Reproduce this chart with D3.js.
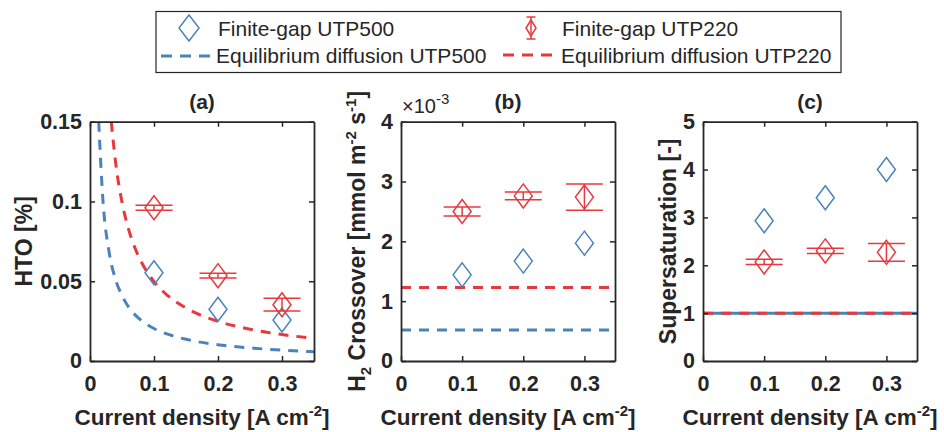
<!DOCTYPE html>
<html>
<head>
<meta charset="utf-8">
<script src="https://cdn.jsdelivr.net/npm/d3@7"></script>
<style>
  body { margin: 0; background: #fff; }
  text { font-family: "Liberation Sans", Arial, sans-serif; fill: #262626; }
</style>
</head>
<body>
<svg id="fig" width="944" height="432"></svg>
<script>
// ---------------- data ----------------
const currentDensity = [0.1, 0.2, 0.3];
const xTicks = [0, 0.1, 0.2, 0.3];

// (a) HTO [%]
const htoUTP500 = [0.0553, 0.0324, 0.0257];
const htoUTP220 = [0.0961, 0.0535, 0.0353];
const htoUTP220Err = [0.0016, 0.0015, 0.0040];
const htoEqX500 = [0.0136, 0.02, 0.03, 0.04, 0.05, 0.06, 0.08, 0.1, 0.12, 0.15, 0.2, 0.25, 0.3, 0.35];
const htoEqY500 = [0.15, 0.102, 0.068, 0.051, 0.041, 0.034, 0.0255, 0.0204, 0.017, 0.0136, 0.0102, 0.0082, 0.0068, 0.0058];
const htoEqX220 = [0.0332, 0.04, 0.05, 0.06, 0.07, 0.08, 0.1, 0.12, 0.15, 0.2, 0.25, 0.3, 0.35];
const htoEqY220 = [0.15, 0.1245, 0.0996, 0.083, 0.0711, 0.0623, 0.0498, 0.0415, 0.0332, 0.0249, 0.0199, 0.0166, 0.0142];
const htoTicks = [0, 0.05, 0.1, 0.15];

// (b) H2 crossover [x10^-3 mmol m-2 s-1]
const crossUTP500 = [1.44, 1.67, 1.97];
const crossUTP220 = [2.50, 2.76, 2.74];
const crossUTP220Err = [0.075, 0.065, 0.22];
const crossEq500 = 0.52;
const crossEq220 = 1.23;
const crossTicks = [0, 1, 2, 3, 4];

// (c) supersaturation [-]
const superUTP500 = [2.93, 3.41, 4.0];
const superUTP220 = [2.07, 2.30, 2.27];
const superUTP220Err = [0.055, 0.055, 0.185];
const superEq500 = 1;
const superEq220 = 1;
const superTicks = [0, 1, 2, 3, 4, 5];

const BLUE = "#4a83b9";
const RED = "#e8383d";
const AXC = "#262626";

let svg = d3.select("#fig");

let top_ = 121.7, bottom = 361;

// diamond marker
let diamond = "M0,-12L9,0L0,12L-9,0Z";

function panel(opt) {
  let g = svg.append("g");
  let x = d3.scaleLinear().domain([0, 0.35]).range([opt.left, opt.right]);
  let y = d3.scaleLinear().domain(opt.yDomain).range([bottom, top_]);

  let clipId = "clip" + opt.name;
  svg.append("clipPath").attr("id", clipId)
    .append("rect").attr("x", opt.left).attr("y", top_)
    .attr("width", opt.right - opt.left).attr("height", bottom - top_);

  let plot = g.append("g").attr("clip-path", "url(#" + clipId + ")");

  // equilibrium lines / curves
  opt.eq.forEach(function(e) {
    let line = d3.line().x(d => x(d[0])).y(d => y(d[1])).curve(d3.curveMonotoneX);
    plot.append("path")
      .datum(e.pts)
      .attr("d", line)
      .attr("fill", "none")
      .attr("stroke", e.color)
      .attr("stroke-width", 3)
      .attr("stroke-dasharray", e.dash);
  });

  // finite gap UTP500
  g.selectAll(".d500").data(opt.s500).enter().append("path")
    .attr("transform", (d, i) => "translate(" + x(currentDensity[i]) + "," + y(d) + ")")
    .attr("d", diamond)
    .attr("fill", "none").attr("stroke", BLUE).attr("stroke-width", 1.5);

  // finite gap UTP220 with error bars
  let eb = g.selectAll(".d220").data(opt.s220).enter().append("g")
    .attr("transform", (d, i) => "translate(" + x(currentDensity[i]) + ",0)");
  eb.append("path")
    .attr("transform", d => "translate(0," + y(d) + ")")
    .attr("d", diamond)
    .attr("fill", "none").attr("stroke", RED).attr("stroke-width", 1.5);
  eb.append("line")
    .attr("y1", (d, i) => y(d - opt.err[i])).attr("y2", (d, i) => y(d + opt.err[i]))
    .attr("stroke", RED).attr("stroke-width", 1.5);
  [-1, 1].forEach(function(s) {
    eb.append("line")
      .attr("x1", -18.5).attr("x2", 18.5)
      .attr("y1", (d, i) => y(d + s * opt.err[i])).attr("y2", (d, i) => y(d + s * opt.err[i]))
      .attr("stroke", RED).attr("stroke-width", 1.5);
  });

  // axes, MATLAB-style box with inward ticks
  let xb = g.append("g").attr("transform", "translate(0," + bottom + ")")
    .call(d3.axisBottom(x).tickValues(xTicks).tickFormat(d => d === 0 ? "0" : d3.format(".1f")(d))
      .tickSizeInner(-5).tickSizeOuter(0).tickPadding(15));
  let xt = g.append("g").attr("transform", "translate(0," + top_ + ")")
    .call(d3.axisTop(x).tickValues(xTicks).tickFormat("").tickSizeInner(-5).tickSizeOuter(0));
  let yl = g.append("g").attr("transform", "translate(" + opt.left + ",0)")
    .call(d3.axisLeft(y).tickValues(opt.ticks).tickFormat(opt.fmt)
      .tickSizeInner(-5).tickSizeOuter(0).tickPadding(8));
  let yr = g.append("g").attr("transform", "translate(" + opt.right + ",0)")
    .call(d3.axisRight(y).tickValues(opt.ticks).tickFormat("").tickSizeInner(-5).tickSizeOuter(0));

  [xb, xt, yl, yr].forEach(function(a) {
    a.select(".domain").attr("stroke", AXC).attr("stroke-width", 1.8);
    a.selectAll(".tick line").attr("stroke", AXC).attr("stroke-width", 1.5);
    a.selectAll(".tick text").attr("font-size", 21.5).attr("font-weight", "bold")
      .attr("font-family", "'Liberation Sans', Arial, sans-serif").attr("fill", AXC);
  });

  // title
  g.append("text")
    .attr("x", (opt.left + opt.right) / 2).attr("y", 109)
    .attr("text-anchor", "middle").attr("font-size", 21).attr("font-weight", "bold")
    .text(opt.title);

  // x label
  let xl = g.append("text")
    .attr("x", (opt.left + opt.right) / 2).attr("y", 425)
    .attr("text-anchor", "middle").attr("font-size", 22.5).attr("font-weight", "bold");
  xl.append("tspan").text("Current density [A cm");
  xl.append("tspan").attr("dy", -9).attr("font-size", 15).text("-2");
  xl.append("tspan").attr("dy", 9).text("]");

  // y label
  let ylab = g.append("text")
    .attr("transform", "translate(" + opt.yLabelX + "," + ((top_ + bottom) / 2) + ") rotate(-90)")
    .attr("text-anchor", "middle").attr("font-size", 23).attr("font-weight", "bold");
  opt.yLabel(ylab);

  return g;
}

panel({
  name: "a", title: "(a)", left: 90, right: 314, yDomain: [0, 0.15],
  ticks: htoTicks, fmt: d => d === 0 ? "0" : String(d),
  s500: htoUTP500, s220: htoUTP220, err: htoUTP220Err,
  eq: [
    { pts: d3.zip(htoEqX500, htoEqY500), color: BLUE, dash: "10,8" },
    { pts: d3.zip(htoEqX220, htoEqY220), color: RED, dash: "10,8" }
  ],
  yLabelX: 32,
  yLabel: function(t) { t.text("HTO [%]"); }
});

panel({
  name: "b", title: "(b)", left: 401, right: 615, yDomain: [0, 4],
  ticks: crossTicks, fmt: d => String(d),
  s500: crossUTP500, s220: crossUTP220, err: crossUTP220Err,
  eq: [
    { pts: [[0, crossEq500], [0.35, crossEq500]], color: BLUE, dash: "10,8" },
    { pts: [[0, crossEq220], [0.35, crossEq220]], color: RED, dash: "10,8" }
  ],
  yLabelX: 365,
  yLabel: function(t) {
    t.append("tspan").text("H");
    t.append("tspan").attr("dy", 6).attr("font-size", 15).text("2");
    t.append("tspan").attr("dy", -6).text(" Crossover [mmol m");
    t.append("tspan").attr("dy", -9).attr("font-size", 15).text("-2");
    t.append("tspan").attr("dy", 9).text(" s");
    t.append("tspan").attr("dy", -9).attr("font-size", 15).text("-1");
    t.append("tspan").attr("dy", 9).text("]");
  }
});

// exponent label for (b)
let expo = svg.append("text").attr("x", 402).attr("y", 113).attr("font-size", 20);
expo.append("tspan").text("\u00d710");
expo.append("tspan").attr("dy", -9).attr("font-size", 15).text("-3");

panel({
  name: "c", title: "(c)", left: 703, right: 917, yDomain: [0, 5],
  ticks: superTicks, fmt: d => String(d),
  s500: superUTP500, s220: superUTP220, err: superUTP220Err,
  eq: [
    { pts: [[0, superEq500], [0.35, superEq500]], color: BLUE, dash: null },
    { pts: [[0, superEq220], [0.35, superEq220]], color: RED, dash: "10,8" }
  ],
  yLabelX: 676,
  yLabel: function(t) { t.text("Supersaturation [-]"); }
});

// ---------------- legend ----------------
let leg = svg.append("g");
leg.append("rect").attr("x", 156).attr("y", 11.5).attr("width", 685).attr("height", 61)
  .attr("fill", "#fff").attr("stroke", AXC).attr("stroke-width", 1.2);

let legItems = [
  { label: "Finite-gap UTP500", kind: "diamond", color: BLUE, x: 189, y: 28, tx: 218, ty: 36 },
  { label: "Finite-gap UTP220", kind: "errbar", color: RED, x: 531, y: 28, tx: 562, ty: 36 },
  { label: "Equilibrium diffusion UTP500", kind: "dash", color: BLUE, x: 188, y: 56, tx: 216, ty: 63 },
  { label: "Equilibrium diffusion UTP220", kind: "dash", color: RED, x: 530, y: 55, tx: 561, ty: 63 }
];

let li = leg.selectAll(".li").data(legItems).enter().append("g");
li.each(function(d) {
  let s = d3.select(this);
  if (d.kind === "diamond") {
    s.append("path").attr("transform", "translate(" + d.x + "," + d.y + ")")
      .attr("d", "M0,-13L10,0L0,13L-10,0Z").attr("fill", "none")
      .attr("stroke", d.color).attr("stroke-width", 1.5);
  } else if (d.kind === "errbar") {
    s.append("path").attr("transform", "translate(" + d.x + "," + d.y + ")")
      .attr("d", "M0,-8L5,0L0,8L-5,0Z").attr("fill", "none")
      .attr("stroke", d.color).attr("stroke-width", 1.5);
    s.append("line").attr("x1", d.x).attr("x2", d.x).attr("y1", d.y - 11).attr("y2", d.y + 11)
      .attr("stroke", d.color).attr("stroke-width", 1.5);
    [-11, 11].forEach(function(o) {
      s.append("line").attr("x1", d.x - 4.5).attr("x2", d.x + 4.5).attr("y1", d.y + o).attr("y2", d.y + o)
        .attr("stroke", d.color).attr("stroke-width", 1.5);
    });
  } else {
    s.append("line").attr("x1", d.x - 27).attr("x2", d.x + 27).attr("y1", d.y).attr("y2", d.y)
      .attr("stroke", d.color).attr("stroke-width", 3).attr("stroke-dasharray", "11,8");
  }
  s.append("text").attr("x", d.tx).attr("y", d.ty).attr("font-size", 21).text(d.label);
});
</script>
</body>
</html>
